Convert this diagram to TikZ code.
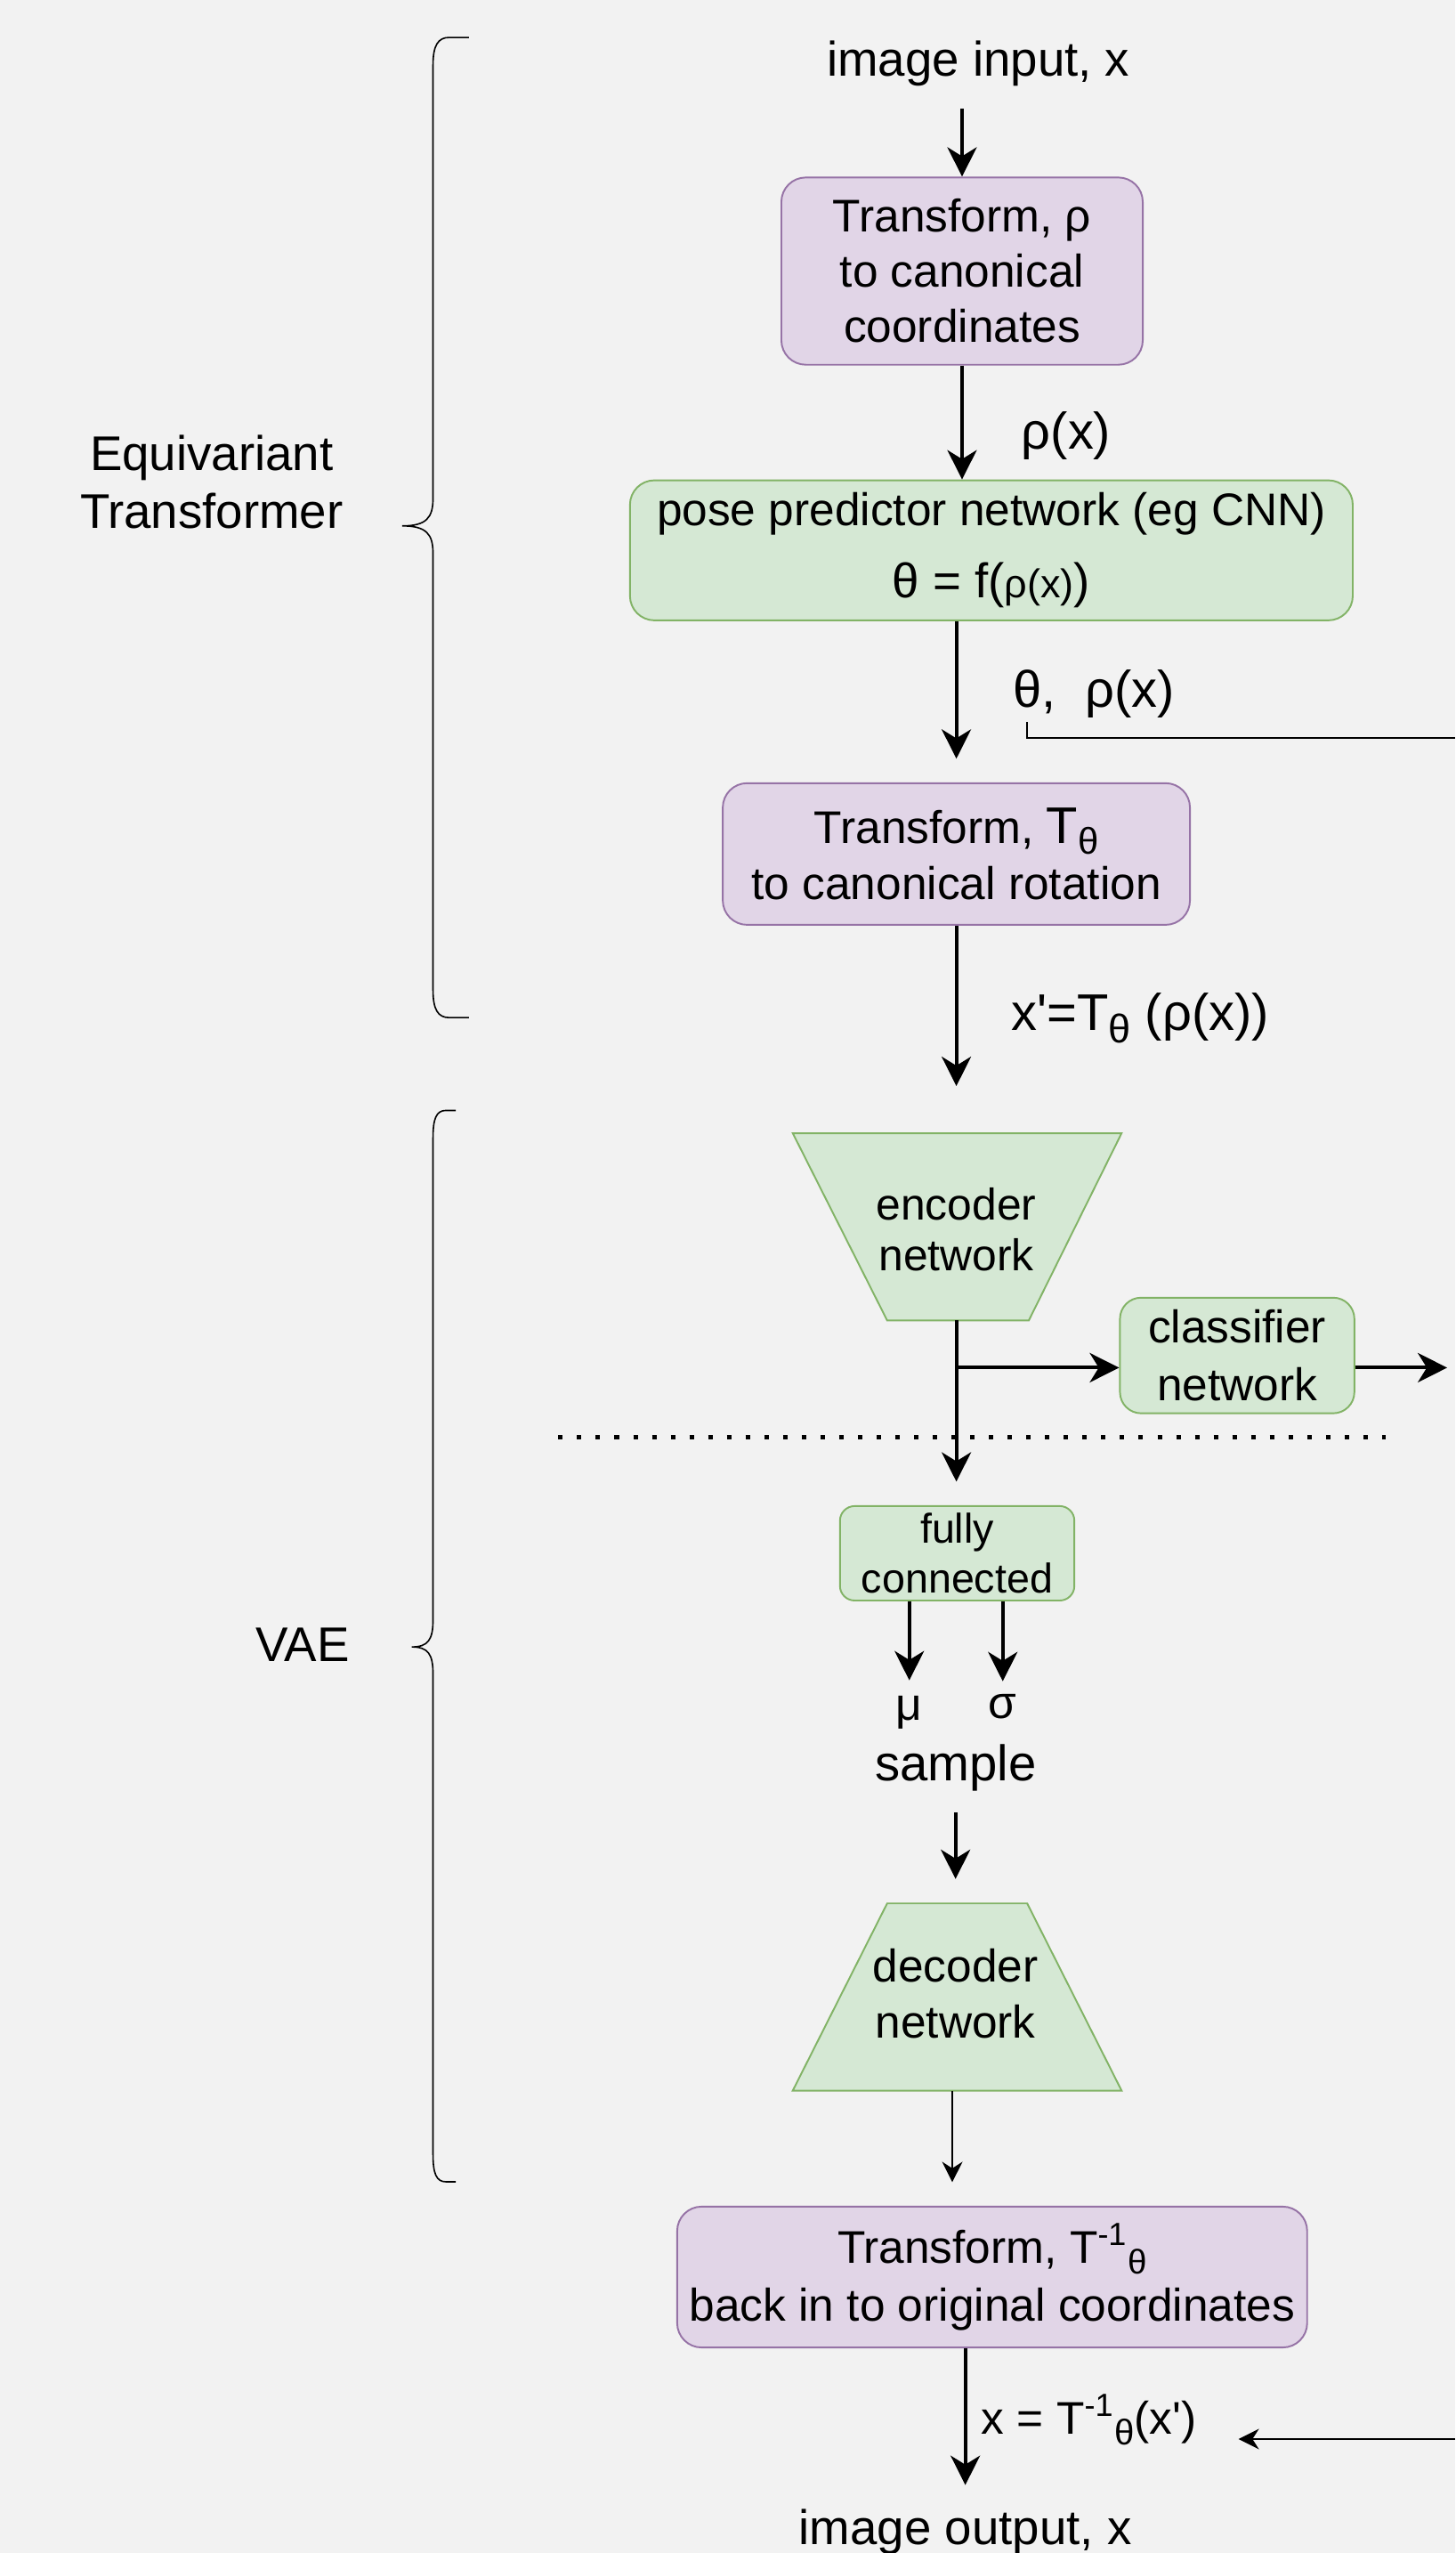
\documentclass[tikz,border=0pt]{standalone}
\usepackage{fontspec}
\setmainfont{Liberation Sans}
\usepackage{tikz}
\usetikzlibrary{arrows.meta}
\definecolor{bgcolor}{HTML}{F2F2F2}
\definecolor{transformfill}{HTML}{E1D5E7}
\definecolor{transformline}{HTML}{9673A6}
\definecolor{networkfill}{HTML}{D5E8D4}
\definecolor{networkline}{HTML}{82B366}
\newcommand{\boxfont}{\fontsize{16}{19.3}\selectfont}
\newcommand{\lblfont}{\fontsize{18}{21}\selectfont}
\newcommand{\iofont}{\fontsize{17}{20.2}\selectfont}
\newcommand{\fcfont}{\fontsize{14.5}{17.6}\selectfont}
\newcommand{\smallrho}{{\fontsize{14}{14}\selectfont ρ(x)}}
\newcommand{\bigT}{{\fontsize{18}{18}\selectfont T}}
\newcommand{\lowidx}[2]{\raisebox{-0.45ex}{\fontsize{#1}{#1}\selectfont #2}}
\tikzset{transformbox/.style={draw=transformline,fill=transformfill,line width=0.6pt,rounded corners=3mm,align=center,font=\boxfont,inner sep=0.5mm}}
\tikzset{networkbox/.style={draw=networkline,fill=networkfill,line width=0.6pt,rounded corners=3mm,align=center,font=\boxfont,inner sep=0.5mm}}
\tikzset{networkshape/.style={draw=networkline,fill=networkfill,line width=0.6pt}}
\tikzset{textnode/.style={font=\lblfont,inner sep=0.5mm,align=center}}
\tikzset{flow/.style={line width=1.25pt,-{Stealth[length=3.6mm,width=3.6mm,inset=1.1mm]}}}
\tikzset{thinflow/.style={line width=0.6pt,-{Stealth[length=2.5mm,width=2.5mm,inset=0.8mm]}}}
\tikzset{thinline/.style={line width=0.6pt}}
\tikzset{bracket/.style={line width=0.5pt}}
\tikzset{dotline/.style={line width=0.55mm,dash pattern=on 0.55mm off 1.75mm}}

\begin{document}
\begin{tikzpicture}[x=0.2mm,y=-0.2mm]
		\useasboundingbox (0,0) rectangle (894,1568);
		\fill[bgcolor] (0,0) rectangle (894,1568);
		\clip (0,0) rectangle (894,1568);
		%
		\node[textnode,font=\iofont] (input) at (601,39) {image input, x};
		\node[transformbox,minimum width=44.4mm,minimum height=23mm] (canon) at (591,166.5) {Transform, ρ\\to canonical\\coordinates};
		\node[networkbox,minimum width=88.8mm,minimum height=17.2mm] (pose) at (609,338) {pose predictor network (eg CNN)\\[6pt]{\fontsize{17}{17}\selectfont θ = f(\smallrho)}};
		\node[transformbox,minimum width=57.4mm,minimum height=17.4mm] (rot) at (587.5,524.5) {Transform, \bigT\lowidx{13}{θ}\\[0.5pt]to canonical rotation};
		\node[textnode] (rhox) at (655,267.5) {ρ(x)};
		\node[textnode] (thetarho) at (672,426) {θ,\ \ ρ(x)};
		\node[textnode] (xprime) at (700.5,625.5) {x\textquotesingle=T\lowidx{14}{θ} (ρ(x))};
		%
		\draw[networkshape] (487,696) -- (689,696) -- (632,811) -- (545,811) -- cycle;
		\node[textnode,font=\fontsize{15.5}{17.8}\selectfont] (enc) at (587.5,755) {encoder\\network};
		\coordinate (encin) at (587.5,696);
		\coordinate (encout) at (587.5,811);
		\coordinate (split) at (587.5,840);
		\node[networkbox,minimum width=28.8mm,minimum height=14.2mm,rounded corners=2.6mm] (clf) at (760,832.5) {classifier\\[0.9pt]network};
		\coordinate (clfout) at (889,840);
		\draw[dotline] (343,882.5) -- (851,882.5);
		\node[networkbox,font=\fcfont,rounded corners=1.8mm,minimum width=28.8mm,minimum height=11.6mm,inner sep=0.2mm] (fc) at (588,954) {fully\\connected};
		\node[textnode,font=\fontsize{16}{16}\selectfont] (mu) at (558.6,1052) {μ};
		\node[textnode,font=\fontsize{16}{16}\selectfont] (sigma) at (616,1048) {σ};
		\node[textnode,font=\fontsize{17.5}{20}\selectfont] (sample) at (587,1085.5) {sample};
		\draw[networkshape] (545,1169) -- (631,1169) -- (689,1284) -- (487,1284) -- cycle;
		\node[textnode,font=\fontsize{16}{19.5}\selectfont] (dec) at (587,1224.5) {decoder\\network};
		\coordinate (decin) at (587,1169);
		\coordinate (decout) at (585,1284);
		%
		\node[transformbox,minimum width=77.4mm,minimum height=17.3mm] (back) at (609.5,1398.5) {Transform, T\textsuperscript{-1}\lowidx{12}{θ}\\[1pt]back in to original coordinates};
		\node[textnode,font=\fontsize{16}{19}\selectfont] (xout) at (669,1486) {x = T\textsuperscript{-1}\lowidx{12.5}{θ}(x\textquotesingle)};
		\node[textnode,font=\iofont] (output) at (593,1555) {image output, x};
		\coordinate (loopin) at (894,453);
		\coordinate (loopout) at (894,1498);
		%
		\draw[bracket] (288,23) -- (276,23) .. controls (269,23) and (266,28) .. (266,40) -- (266,306) .. controls (266,318) and (262,323) .. (247,323) .. controls (262,323) and (266,328) .. (266,340) -- (266,608) .. controls (266,620) and (269,625) .. (276,625) -- (288,625);
		\draw[bracket] (280,682) -- (274,682) .. controls (268,682) and (266,687) .. (266,699) -- (266,995) .. controls (266,1007) and (263,1011.5) .. (253,1011.5) .. controls (263,1011.5) and (266,1016) .. (266,1028) -- (266,1323) .. controls (266,1335) and (268,1340) .. (274,1340) -- (280,1340);
		\node[textnode,font=\iofont] (eqt) at (130,296) {Equivariant\\Transformer};
		\node[textnode,font=\iofont] (vae) at (186,1010) {VAE};
		%
		\draw[flow,shorten <=2.2mm] (input.south -| canon.north) -- (canon.north);
		\draw[flow] (canon.south) -- (canon.south |- pose.north);
		\draw[flow,shorten >=2.9mm] (rot.north |- pose.south) -- (rot.north);
		\draw[flow,shorten >=5.8mm] (rot.south) -- (encin);
		\draw[flow,shorten >=2.9mm] (encout) -- (encout |- fc.north);
		\draw[flow] (split) -- (split -| clf.west);
		\draw[flow] (split -| clf.east) -- (clfout);
		\draw[flow,shorten >=1.4mm] (fc.south -| mu) -- (mu.north);
		\draw[flow,shorten >=1mm] (fc.south -| sigma) -- (sigma.north);
		\draw[flow,shorten <=2.1mm,shorten >=3mm] (sample) -- (decin);
		\draw[thinflow,shorten >=2.9mm] (decout) -- (decout |- back.north);
		\draw[flow,shorten >=2.4mm] (back.south -| output) -- (output.north);
		\draw[thinline] ([xshift=2.2mm]thetarho.south west) |- (loopin);
		\draw[thinflow,shorten >=4.6mm] (loopout) -- (loopout -| xout.east);
	\end{tikzpicture}
\end{document}
